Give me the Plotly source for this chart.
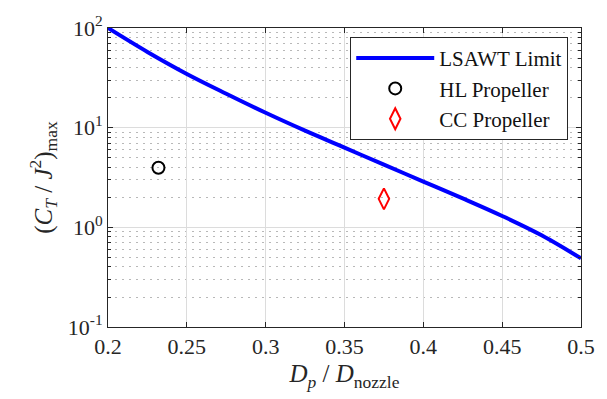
import plotly.graph_objects as go

# Data
limit_x = [0.2, 0.225, 0.25, 0.275, 0.3, 0.325, 0.35, 0.375, 0.4, 0.425, 0.45, 0.475, 0.5]
limit_y = [100, 57.5, 34.6, 21.9, 14.1, 9.33, 6.31, 4.25, 2.88, 1.95, 1.30, 0.832, 0.488]
hl_x = [0.232]
hl_y = [3.96]
cc_x = [0.375]
cc_y = [1.93]
x_ticks = [0.2, 0.25, 0.3, 0.35, 0.4, 0.45, 0.5]
x_tick_text = ["0.2", "0.25", "0.3", "0.35", "0.4", "0.45", "0.5"]
y_ticks = [0.1, 1, 10, 100]
y_tick_text = ["10<sup>-1</sup>", "10<sup>0</sup>", "10<sup>1</sup>", "10<sup>2</sup>"]
y_minor = [m * d for d in (0.1, 1, 10) for m in range(2, 10)]

FONT = "Liberation Serif"
INK = "#262626"

fig = go.Figure()
fig.add_trace(go.Scatter(x=limit_x, y=limit_y, mode="lines", name="LSAWT Limit",
                         line=dict(color="#0000ff", width=4, shape="spline", smoothing=1)))
fig.add_trace(go.Scatter(x=hl_x, y=hl_y, mode="markers", name="HL Propeller",
                         marker=dict(symbol="circle-open", size=12, color="black",
                                     line=dict(width=2, color="black"))))
fig.add_trace(go.Scatter(x=cc_x, y=cc_y, mode="markers", name="CC Propeller",
                         marker=dict(symbol="diamond-tall-open", size=15, color="red",
                                     line=dict(width=2, color="red"))))

fig.update_layout(
    width=607, height=399,
    margin=dict(l=108, r=18, t=23, b=72),
    paper_bgcolor="white", plot_bgcolor="white",
    font=dict(family=FONT, size=22, color=INK),
    showlegend=True,
    legend=dict(x=0.973, y=0.97, xanchor="right", yanchor="top",
                bordercolor=INK, borderwidth=1, bgcolor="white",
                font=dict(family=FONT, size=21, color="#111"),
                tracegroupgap=0, itemwidth=78),
)
fig.update_xaxes(
    range=[0.2, 0.5], tickvals=x_ticks, ticktext=x_tick_text,
    showline=True, linecolor=INK, linewidth=1, mirror="ticks",
    ticks="inside", ticklen=5, tickcolor=INK,
    showgrid=True, gridcolor="#dcdcdc", gridwidth=1, zeroline=False,
    title=dict(text="<i>D<sub>p</sub></i> / <i>D</i><sub>nozzle</sub>", font=dict(size=25), standoff=6),
)
fig.update_yaxes(
    type="log", range=[-1, 2], tickvals=y_ticks, ticktext=y_tick_text,
    showline=True, linecolor=INK, linewidth=1, mirror="ticks",
    ticks="inside", ticklen=5, tickcolor=INK,
    showgrid=True, gridcolor="#dcdcdc", gridwidth=1, zeroline=False,
    minor=dict(tickvals=y_minor, ticks="inside", ticklen=3, tickcolor=INK,
               showgrid=True, gridcolor="#b8b8b8", griddash="2px,5px", gridwidth=1),
    title=dict(text="(<i>C<sub>T</sub></i> / <i>J</i><sup>2</sup>)<sub>max</sub>", font=dict(size=25), standoff=8),
)

fig.write_html("out.html")
